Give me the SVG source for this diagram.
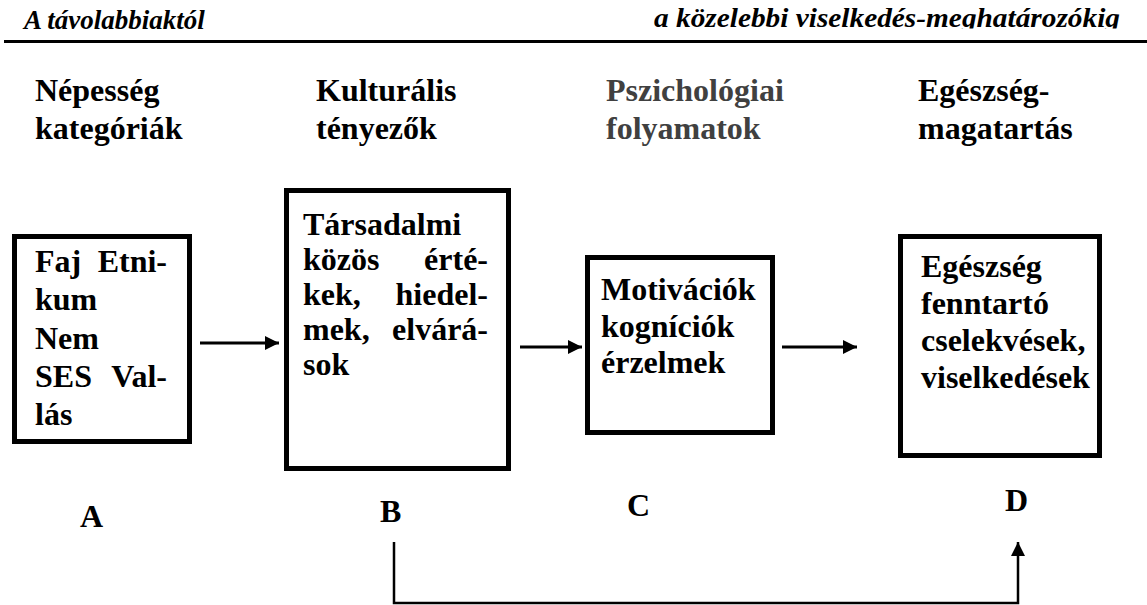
<svg xmlns="http://www.w3.org/2000/svg" width="1147" height="605" viewBox="0 0 1147 605">
<style>
text{font-family:'Liberation Serif','DejaVu Serif',serif;font-weight:700;fill:#000}
.hd{font-style:italic;font-size:27px}
.col{font-size:32px}
.grey{fill:#404040}
.t{font-size:32px}
.box{fill:#fff;stroke:#000;stroke-width:5}
.ar{stroke:#000;stroke-width:3;fill:none}
.fb{stroke:#000;stroke-width:2.5;fill:none}
</style>
<defs>
<marker id="ah" viewBox="0 0 10 10" refX="10" refY="5" markerWidth="16" markerHeight="14" markerUnits="userSpaceOnUse" orient="auto">
<path d="M0,0 L10,5 L0,10 z" fill="#000"/>
</marker>
<clipPath id="hclip"><rect x="0" y="0" width="1147" height="28.5"/></clipPath>
</defs>
<rect width="1147" height="605" fill="#fff"/>
<g id="header" font-family="Liberation Serif, DejaVu Serif, serif">
<text class="hd" x="24" y="29">A távolabbiaktól</text>
<text class="hd" x="654" y="27" textLength="466" lengthAdjust="spacingAndGlyphs" clip-path="url(#hclip)">a közelebbi viselkedés-meghatározókig</text>
<line x1="4" y1="41.5" x2="1147" y2="41.5" stroke="#000" stroke-width="3"/>
</g>
<g id="col-headers" font-family="Liberation Serif, DejaVu Serif, serif">
<text class="col" x="35" y="101">Népesség</text>
<text class="col" x="35" y="139">kategóriák</text>
<text class="col" x="316" y="101">Kulturális</text>
<text class="col" x="316" y="139">tényezők</text>
<text class="col grey" x="606" y="101">Pszichológiai</text>
<text class="col grey" x="606" y="139">folyamatok</text>
<text class="col" x="918" y="101">Egészség-</text>
<text class="col" x="918" y="139">magatartás</text>
</g>
<g id="nodeA" font-family="Liberation Serif, DejaVu Serif, serif">
<rect class="box" x="14.5" y="236.5" width="175" height="205"/>
<text class="t" x="35" y="272">Faj</text><text class="t" x="167" y="272" text-anchor="end">Etni-</text>
<text class="t" x="35" y="310">kum</text>
<text class="t" x="35" y="349">Nem</text>
<text class="t" x="35" y="387">SES</text><text class="t" x="167" y="387" text-anchor="end">Val-</text>
<text class="t" x="35" y="425">lás</text>
</g>
<g id="nodeB" font-family="Liberation Serif, DejaVu Serif, serif">
<rect class="box" x="286.5" y="190.5" width="222" height="278"/>
<text class="t" x="303" y="235">Társadalmi</text>
<text class="t" x="303" y="270">közös</text><text class="t" x="488" y="270" text-anchor="end">érté-</text>
<text class="t" x="303" y="305">kek,</text><text class="t" x="488" y="305" text-anchor="end">hiedel-</text>
<text class="t" x="303" y="340">mek,</text><text class="t" x="488" y="340" text-anchor="end">elvárá-</text>
<text class="t" x="303" y="375">sok</text>
</g>
<g id="nodeC" font-family="Liberation Serif, DejaVu Serif, serif">
<rect class="box" x="587.5" y="257.5" width="185" height="175"/>
<text class="t" x="601" y="300">Motivációk</text>
<text class="t" x="601" y="337">kogníciók</text>
<text class="t" x="601" y="373">érzelmek</text>
</g>
<g id="nodeD" font-family="Liberation Serif, DejaVu Serif, serif">
<rect class="box" x="900.5" y="236.5" width="199" height="219"/>
<text class="t" x="921" y="277">Egészség</text>
<text class="t" x="921" y="314">fenntartó</text>
<text class="t" x="921" y="351">cselekvések,</text>
<text class="t" x="921" y="388">viselkedések</text>
</g>
<g id="labels" font-family="Liberation Serif, DejaVu Serif, serif">
<text class="t" x="80" y="527">A</text>
<text class="t" x="380" y="522">B</text>
<text class="t" x="627" y="516">C</text>
<text class="t" x="1005" y="511">D</text>
</g>
<g id="connectors">
<line class="ar" x1="200" y1="343" x2="279" y2="343" marker-end="url(#ah)"/>
<line class="ar" x1="520" y1="347" x2="582" y2="347" marker-end="url(#ah)"/>
<line class="ar" x1="782" y1="347" x2="857" y2="347" marker-end="url(#ah)"/>
<path class="fb" d="M394,542 V603 H1018 V542" marker-end="url(#ah)"/>
</g>
</svg>
